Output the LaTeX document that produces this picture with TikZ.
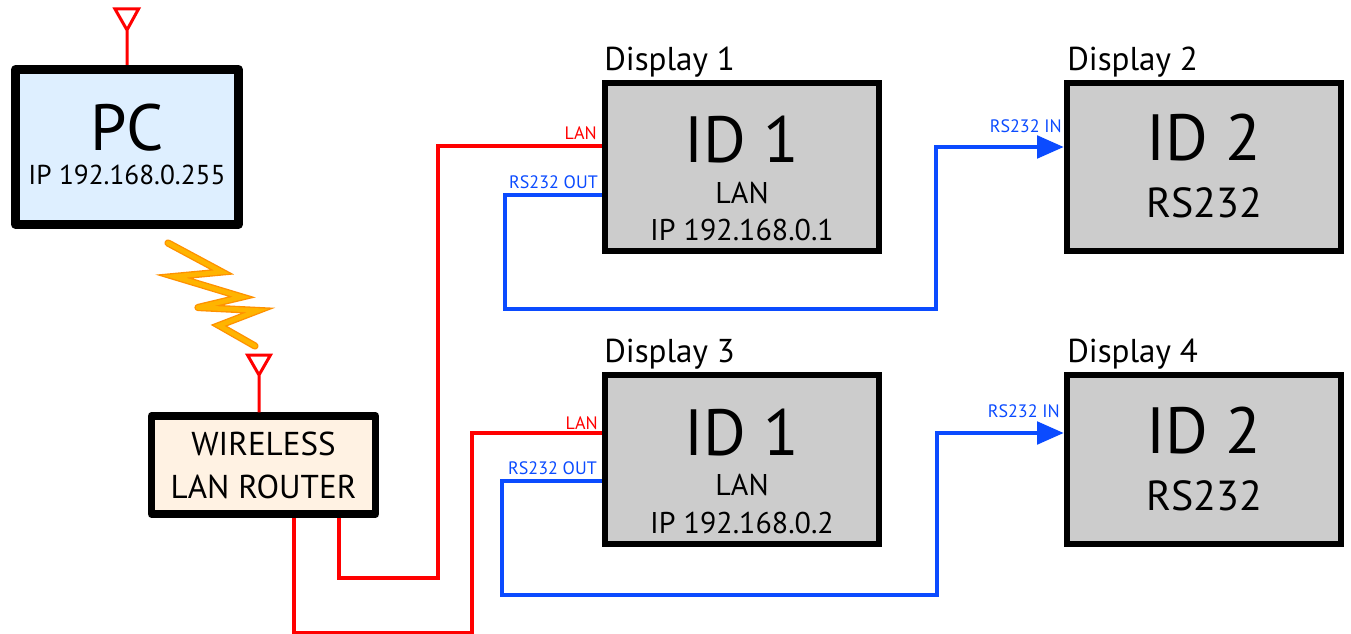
\documentclass[tikz,border=0pt]{standalone}
\usepackage{fontspec}
\setmainfont{PT Sans}
\usetikzlibrary{arrows.meta, positioning}
\definecolor{pcfill}{HTML}{DEEFFF}
\definecolor{routerfill}{HTML}{FFF2E3}
\definecolor{dispfill}{HTML}{CCCCCC}
\definecolor{lanred}{HTML}{FF0000}
\definecolor{rsblue}{HTML}{0B4BFF}
\definecolor{boltedge}{HTML}{FF9100}
\definecolor{boltfill}{HTML}{FFB400}
\newcommand{\hugetext}{\fontsize{49}{0}\selectfont}
\newcommand{\midtext}{\fontsize{31.5}{0}\selectfont}
\newcommand{\iptext}{\fontsize{22.5}{0}\selectfont}
\newcommand{\pctext}{\fontsize{20.5}{0}\selectfont}
\newcommand{\routertext}{\fontsize{24.8}{0}\selectfont}

\begin{document}
\begin{tikzpicture}[
        x=0.75pt, y=-0.75pt,
        % STYLES
        pcbox/.style = {rectangle, draw, fill=pcfill, line width=7pt, line join=round, minimum width=167pt, minimum height=116pt, align=center, inner sep=0pt, font=\fontsize{10}{0}\selectfont, text height=57pt, text depth=0pt},
        routerbox/.style = {rectangle, draw, fill=routerfill, line width=5.6pt, line join=round, minimum width=168pt, minimum height=73.5pt, align=center, inner sep=0pt, font=\fontsize{10}{0}\selectfont, text height=49.5pt, text depth=0pt},
        lanbox/.style = {rectangle, draw, fill=dispfill, line width=4.5pt, minimum width=206pt, minimum height=126.5pt, align=center, inner sep=0pt, font=\fontsize{10}{0}\selectfont, text height=111pt, text depth=0pt},
        rsbox/.style = {lanbox, text height=76.5pt},
        title/.style = {anchor=base west, inner sep=0pt, font=\fontsize{24.8}{24.8}\selectfont},
        lanlabel/.style = {anchor=base east, inner sep=0pt, text=lanred, font=\fontsize{13.5}{13.5}\selectfont},
        rslabel/.style = {anchor=base east, inner sep=0pt, text=rsblue, font=\fontsize{13.5}{13.5}\selectfont},
        lanline/.style = {draw=lanred, line width=2.5pt},
        rsline/.style = {draw=rsblue, line width=2.5pt},
        rsarrow/.style = {rsline, -{Triangle[length=20pt,width=17pt]}},
        antenna/.style = {draw=lanred, line width=2.25pt, line join=miter},
        bolt/.style = {draw=boltedge, line width=1pt, line cap=round, line join=miter, miter limit=8, double=boltfill, double distance=3.4pt}
    ]
        \useasboundingbox (0,0) rectangle (1351,634);

        % --- NODES ---
        % Left side
        \node [pcbox] (pc) at (127,147) {{\hugetext PC}\\[10pt]{\pctext IP 192.168.0.255}};
        \node [routerbox] (router) at (263.5,465) {{\routertext WIRELESS}\\[13pt]{\routertext LAN ROUTER}};

        % Displays
        \node [lanbox] (dispone) at (742,167) {{\hugetext ID 1}\\[13pt]{\iptext LAN}\\[11pt]{\iptext IP 192.168.0.1}};
        \node [rsbox] (disptwo) at (1204,167) {{\hugetext ID 2}\\[19pt]{\midtext RS232}};
        \node [lanbox] (dispthree) at (742,459.5) {{\hugetext ID 1}\\[13pt]{\iptext LAN}\\[11pt]{\iptext IP 192.168.0.2}};
        \node [rsbox] (dispfour) at (1204,459.5) {{\hugetext ID 2}\\[19pt]{\midtext RS232}};

        \node [title] (titleone) at (604,71) {Display 1};
        \node [title] (titletwo) at (1067,71) {Display 2};
        \node [title] (titlethree) at (604,362) {Display 3};
        \node [title] (titlefour) at (1067,362) {Display 4};

        % Port labels
        \node [lanlabel] (lanone) at (597,140) {LAN};
        \node [rslabel] (outone) at (598,189) {RS232 OUT};
        \node [rslabel] (intwo) at (1062,133) {RS232 IN};
        \node [lanlabel] (lanthree) at (598,429) {LAN};
        \node [rslabel] (outthree) at (597,474) {RS232 OUT};
        \node [rslabel] (infour) at (1060,417) {RS232 IN};

        % Antennas
        \coordinate (pctip) at (127,30);
        \coordinate (routertip) at (259,375);
        \draw [antenna] (pc.north -| pctip) -- (pctip) (pctip) -- (115,9) -- (138.5,9) -- cycle;
        \draw [antenna] (router.north -| routertip) -- (routertip) (routertip) -- (247.5,355) -- (270.5,355) -- cycle;

        % --- PATHS ---
        % Wireless link
        \draw [bolt] (168,243) -- (222,272) -- (174,276.5) -- (242,297) -- (198,307.5) (198,307.5) -- (258,310.5) -- (219,325.5) -- (255,346);

        % LAN
        \draw [lanline] (router.south -| 339,0) |- (438,578) |- (dispone.west |- 0,146);
        \draw [lanline] (router.south -| 294,0) |- (472,633) |- (dispthree.west |- 0,433);

        % RS232
        \draw [rsarrow] (dispone.west |- 0,195) -| (505,309) -| (936,147) -- (disptwo.west |- 0,147);
        \draw [rsarrow] (dispthree.west |- 0,481) -| (502,595) -| (937,433) -- (dispfour.west |- 0,433);
\end{tikzpicture}
\end{document}
